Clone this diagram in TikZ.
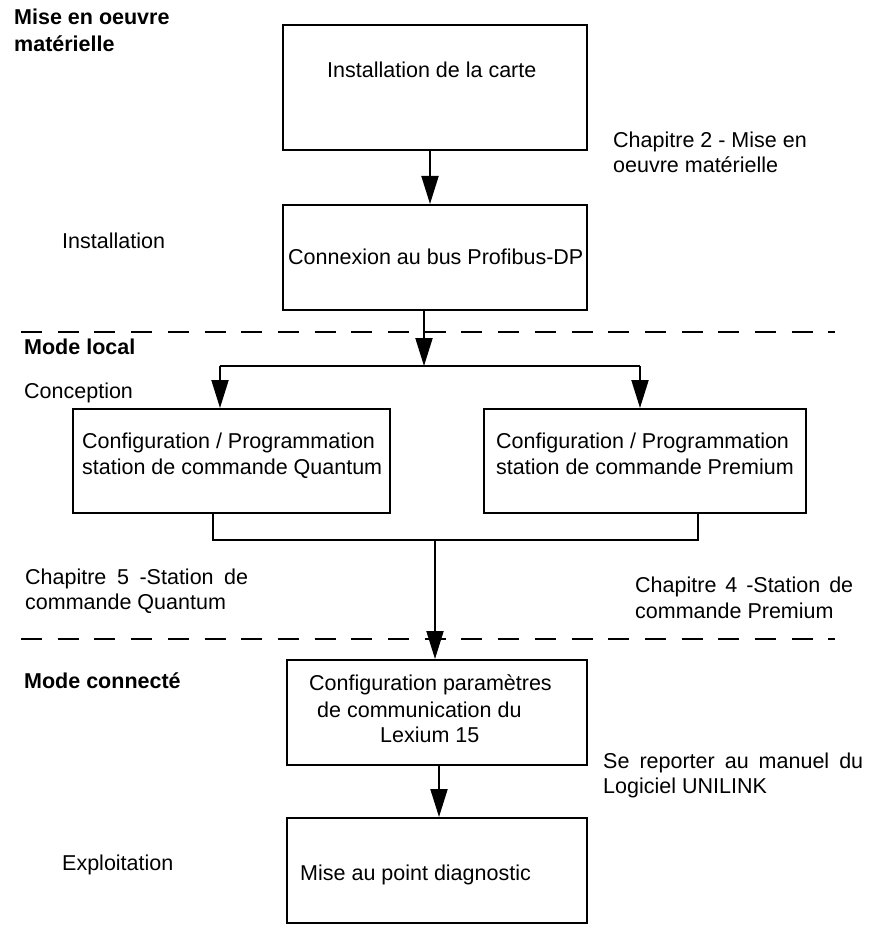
\documentclass[tikz,border=0pt]{standalone}
\usepackage{fontspec}
\setmainfont{Liberation Sans}
\usetikzlibrary{arrows.meta}
\tikzset{
  box/.style={draw, line width=2pt, inner sep=0pt, rectangle},
  arr/.style={line width=2pt, -{Triangle[length=28pt,width=17pt]}},
  conn/.style={line width=2pt},
  dashline/.style={line width=2pt, dash pattern=on 21pt off 15.7pt},
  lbl/.style={anchor=base west, inner sep=0pt, font=\fontsize{21.5}{25}\selectfont},
  blbl/.style={lbl, font=\fontsize{21.5}{25}\selectfont\bfseries},
}
\begin{document}
\begin{tikzpicture}[x=1pt,y=-1pt]
\useasboundingbox (0,0) rectangle (875,952);
% boxes
\node[box, minimum width=304pt, minimum height=125pt] (b1) at (435,87.5) {};
\node[box, minimum width=304pt, minimum height=105pt] (b2) at (435,257.5) {};
\node[box, minimum width=317pt, minimum height=104pt] (b3) at (231.5,461) {};
\node[box, minimum width=322pt, minimum height=104pt] (b4) at (645,461) {};
\node[box, minimum width=300pt, minimum height=105pt] (b5) at (437,712.5) {};
\node[box, minimum width=300pt, minimum height=105pt] (b6) at (437,870.5) {};
% box texts
\node[lbl] (t1) at (327,78) {Installation de la carte};
\node[lbl] (t2) at (288,264) {Connexion au bus Profibus-DP};
\node[lbl] (t3a) at (82,448) {Configuration / Programmation};
\node[lbl] (t3b) at (82,474) {station de commande Quantum};
\node[lbl] (t4a) at (496,448) {Configuration / Programmation};
\node[lbl] (t4b) at (496,474) {station de commande Premium};
\node[lbl] (t5a) at (309,690) {Configuration paramètres};
\node[lbl] (t5b) at (317,717) {de communication du};
\node[lbl] (t5c) at (380,742) {Lexium 15};
\node[lbl] (t6) at (300,880) {Mise au point diagnostic};
% side texts
\node[blbl] (s1a) at (14,25) {Mise en oeuvre};
\node[blbl] (s1b) at (14,52) {matérielle};
\node[lbl] (c2a) at (613,148) {Chapitre 2 - Mise en};
\node[lbl] (c2b) at (613,173) {oeuvre matérielle};
\node[lbl] (inst) at (62,248) {Installation};
\node[blbl] (ml) at (24,354) {Mode local};
\node[lbl] (conc) at (24,398) {Conception};
\node[lbl] (c5a) at (25,584) {\makebox[223pt][s]{Chapitre 5 -Station de}};
\node[lbl] (c5b) at (25,609) {commande Quantum};
\node[lbl] (c4a) at (635,592) {\makebox[218pt][s]{Chapitre 4 -Station de}};
\node[lbl] (c4b) at (635,618) {commande Premium};
\node[blbl] (mc) at (24,688) {Mode connecté};
\node[lbl] (sra) at (603,768) {\makebox[260pt][s]{Se reporter au manuel du}};
\node[lbl] (srb) at (603,793) {Logiciel UNILINK};
\node[lbl] (expl) at (62,870) {Exploitation};
% dashed separators
\coordinate (d1l) at (21,332); \coordinate (d1r) at (835,332);
\coordinate (d2l) at (21,639); \coordinate (d2r) at (835,639);
\draw[dashline] (d1l) -- (d1r);
\draw[dashline] (d2l) -- (d2r);
% connectors
\coordinate (x1) at (430,0);
\draw[arr] (b1.south -| x1) -- (b2.north -| x1);
\coordinate (j1) at (424,366);
\coordinate (jl) at (220,366);
\coordinate (jr) at (640,366);
\draw[arr] (b2.south -| j1) -- (j1);
\draw[conn] (jl) -- (jr);
\draw[arr] (jl) -- (jl |- b3.north);
\draw[arr] (jr) -- (jr |- b4.north);
\coordinate (kl) at (213,540);
\coordinate (kr) at (698,540);
\coordinate (km) at (435,540);
\draw[conn] (b3.south -| kl) -- (kl) -- (kr) -- (b4.south -| kr);
\draw[arr] (km) -- (km |- b5.north);
\coordinate (x2) at (439,0);
\draw[arr] (b5.south -| x2) -- (b6.north -| x2);
\end{tikzpicture}
\end{document}
